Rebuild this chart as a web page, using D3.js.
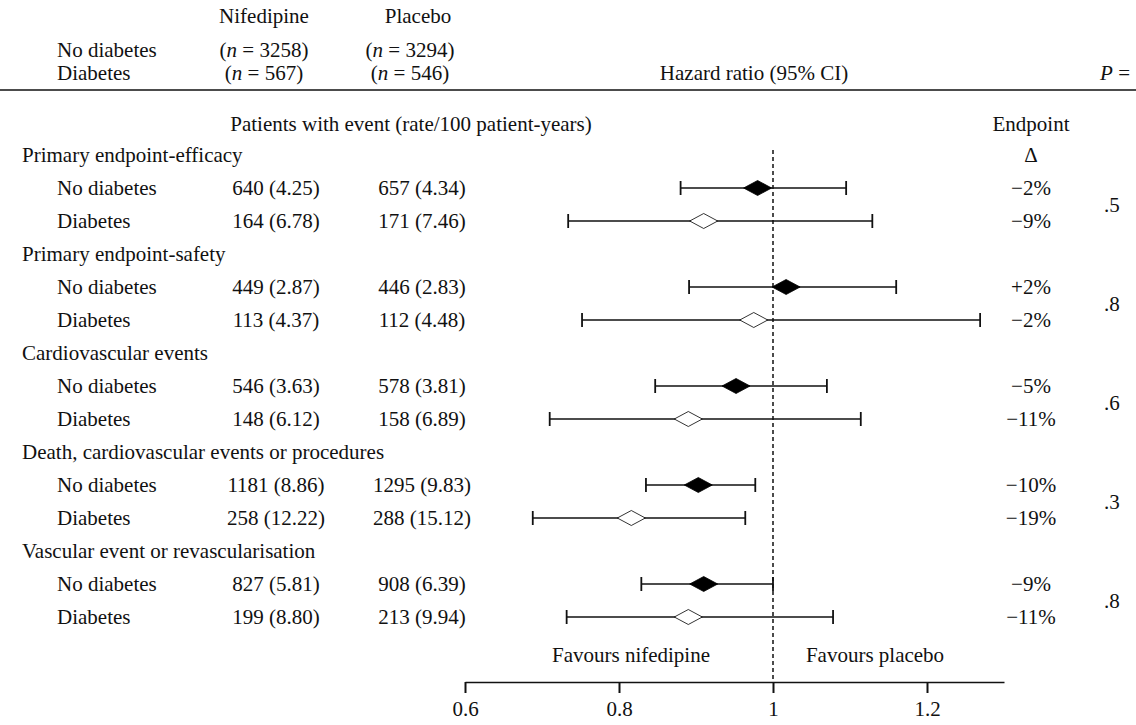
<!DOCTYPE html>
<html>
<head>
<meta charset="utf-8">
<script src="https://cdn.jsdelivr.net/npm/d3@7"></script>
<style>
  body { margin: 0; background: #fff; }
  svg text { font-family: "Liberation Serif", "Times New Roman", serif; font-size: 21px; fill: #111; }
</style>
</head>
<body>
<div id="forest"></div>
<script>
//
// Data
//
var groups = ["Primary endpoint-efficacy", "Primary endpoint-safety", "Cardiovascular events",
              "Death, cardiovascular events or procedures", "Vascular event or revascularisation"];
var subgroups = ["No diabetes", "Diabetes"];

// events (rate/100 patient-years), one pair [no diabetes, diabetes] per group
var nifedipine = [["640 (4.25)", "164 (6.78)"], ["449 (2.87)", "113 (4.37)"], ["546 (3.63)", "148 (6.12)"],
                  ["1181 (8.86)", "258 (12.22)"], ["827 (5.81)", "199 (8.80)"]];
var placebo    = [["657 (4.34)", "171 (7.46)"], ["446 (2.83)", "112 (4.48)"], ["578 (3.81)", "158 (6.89)"],
                  ["1295 (9.83)", "288 (15.12)"], ["908 (6.39)", "213 (9.94)"]];

// hazard ratio and 95% CI
var hr   = [[0.98, 0.91], [1.017, 0.975], [0.952, 0.89], [0.903, 0.816], [0.91, 0.89]];
var ciLo = [[0.88, 0.734], [0.891, 0.752], [0.847, 0.71], [0.835, 0.688], [0.829, 0.732]];
var ciHi = [[1.095, 1.129], [1.16, 1.269], [1.07, 1.114], [0.977, 0.964], [1.0, 1.078]];

var delta   = [["−2%", "−9%"], ["+2%", "−2%"], ["−5%", "−11%"], ["−10%", "−19%"], ["−9%", "−11%"]];
var pValues = [".5", ".8", ".6", ".3", ".8"];

var nHeader = { nifedipine: ["(n = 3258)", "(n = 567)"], placebo: ["(n = 3294)", "(n = 546)"] };

var ticks = [0.6, 0.8, 1, 1.2];

//
// Layout
//
var width = 1136, height = 725;
var colLabel = 22, colSub = 57, colNif = 276, colPla = 422, colDelta = 1031, colP = 1104;
var diamondW = 14, diamondH = 7.5, capH = 7;

var svg = d3.select("#forest").append("svg")
    .attr("width", width)
    .attr("height", height);

// build the row list: group header followed by its two subgroups
var rows = [];
groups.forEach(function(g, i) {
    rows.push({ key: "g" + i, kind: "group", group: i });
    subgroups.forEach(function(s, j) {
        rows.push({ key: "r" + i + "_" + j, kind: "row", group: i, sub: j });
    });
});

var y = d3.scalePoint()
    .domain(rows.map(function(d) { return d.key; }))
    .range([155, 617]);

var x = d3.scaleLinear()
    .domain([0.6, 1.3])
    .range([465, 1004]);

//
// Header
//
var head = svg.append("g").attr("class", "header");

head.append("text").attr("x", 264).attr("y", 23).attr("text-anchor", "middle").text("Nifedipine");
head.append("text").attr("x", 418).attr("y", 23).attr("text-anchor", "middle").text("Placebo");

subgroups.forEach(function(s, j) {
    var by = 57 + j * 23;
    head.append("text").attr("x", 57).attr("y", by).text(s);
    [["nifedipine", 264], ["placebo", 410]].forEach(function(c) {
        var parts = nHeader[c[0]][j].split("n");
        var t = head.append("text").attr("x", c[1]).attr("y", by).attr("text-anchor", "middle");
        t.append("tspan").text(parts[0]);
        t.append("tspan").attr("font-style", "italic").text("n");
        t.append("tspan").text(parts[1]);
    });
});

head.append("text").attr("x", 754).attr("y", 80).attr("text-anchor", "middle").text("Hazard ratio (95% CI)");
var pHead = head.append("text").attr("x", 1130).attr("y", 80).attr("text-anchor", "end");
pHead.append("tspan").attr("font-style", "italic").text("P");
pHead.append("tspan").text(" =");

head.append("line")
    .attr("x1", 0).attr("x2", width)
    .attr("y1", 90).attr("y2", 90)
    .attr("stroke", "#111").attr("stroke-width", 1.6);

head.append("text").attr("x", 411).attr("y", 131).attr("text-anchor", "middle")
    .text("Patients with event (rate/100 patient-years)");
head.append("text").attr("x", colDelta).attr("y", 131).attr("text-anchor", "middle").text("Endpoint");
head.append("text").attr("x", colDelta).attr("y", y("g0")).attr("dy", "0.35em")
    .attr("text-anchor", "middle").text("Δ");

//
// Reference line at HR = 1
//
svg.append("line")
    .attr("x1", x(1)).attr("x2", x(1))
    .attr("y1", 150).attr("y2", 682)
    .attr("stroke", "#111").attr("stroke-width", 1.5)
    .attr("stroke-dasharray", "4,3");

//
// Table rows
//
var row = svg.selectAll("g.row")
    .data(rows)
    .enter().append("g")
    .attr("class", "row")
    .attr("transform", function(d) { return "translate(0," + y(d.key) + ")"; });

row.filter(function(d) { return d.kind == "group"; })
    .append("text")
    .attr("x", colLabel)
    .attr("dy", "0.35em")
    .text(function(d) { return groups[d.group]; });

var sub = row.filter(function(d) { return d.kind == "row"; });

sub.append("text").attr("x", colSub).attr("dy", "0.35em")
    .text(function(d) { return subgroups[d.sub]; });
sub.append("text").attr("x", colNif).attr("dy", "0.35em").attr("text-anchor", "middle")
    .text(function(d) { return nifedipine[d.group][d.sub]; });
sub.append("text").attr("x", colPla).attr("dy", "0.35em").attr("text-anchor", "middle")
    .text(function(d) { return placebo[d.group][d.sub]; });
sub.append("text").attr("x", colDelta).attr("dy", "0.35em").attr("text-anchor", "middle")
    .text(function(d) { return delta[d.group][d.sub]; });

// CI whiskers
sub.append("line")
    .attr("x1", function(d) { return x(ciLo[d.group][d.sub]); })
    .attr("x2", function(d) { return x(ciHi[d.group][d.sub]); })
    .attr("stroke", "#111").attr("stroke-width", 1.5);

sub.append("line")
    .attr("x1", function(d) { return x(ciLo[d.group][d.sub]); })
    .attr("x2", function(d) { return x(ciLo[d.group][d.sub]); })
    .attr("y1", -capH).attr("y2", capH)
    .attr("stroke", "#111").attr("stroke-width", 1.8);

sub.append("line")
    .attr("x1", function(d) { return x(ciHi[d.group][d.sub]); })
    .attr("x2", function(d) { return x(ciHi[d.group][d.sub]); })
    .attr("y1", -capH).attr("y2", capH)
    .attr("stroke", "#111").attr("stroke-width", 1.8);

// diamonds: filled = no diabetes, open = diabetes
sub.append("path")
    .attr("d", function(d) {
        var cx = x(hr[d.group][d.sub]);
        return "M" + (cx - diamondW) + ",0L" + cx + "," + (-diamondH) +
               "L" + (cx + diamondW) + ",0L" + cx + "," + diamondH + "Z";
    })
    .attr("fill", function(d) { return d.sub == 0 ? "#000" : "#fff"; })
    .attr("stroke", "#000")
    .attr("stroke-width", 0.8);

// P values between the two subgroup rows
svg.selectAll("text.pval")
    .data(pValues)
    .enter().append("text")
    .attr("class", "pval")
    .attr("x", colP)
    .attr("y", function(d, i) { return (y("r" + i + "_0") + y("r" + i + "_1")) / 2; })
    .attr("dy", "0.35em")
    .text(function(d) { return d; });

//
// Axis
//
svg.append("text").attr("x", 631).attr("y", 655).attr("dy", "0.35em")
    .attr("text-anchor", "middle").text("Favours nifedipine");
svg.append("text").attr("x", 875).attr("y", 655).attr("dy", "0.35em")
    .attr("text-anchor", "middle").text("Favours placebo");

var axis = svg.append("g")
    .attr("transform", "translate(0,682)")
    .call(d3.axisBottom(x)
        .tickValues(ticks)
        .tickFormat(d3.format("~g"))
        .tickSize(11)
        .tickSizeOuter(0)
        .tickPadding(8));

axis.attr("font-family", null).attr("font-size", null);
axis.select(".domain").attr("stroke", "#111").attr("stroke-width", 1.6);
axis.selectAll(".tick line").attr("stroke", "#111").attr("stroke-width", 2);
axis.selectAll(".tick text").attr("fill", "#111");
</script>
</body>
</html>
